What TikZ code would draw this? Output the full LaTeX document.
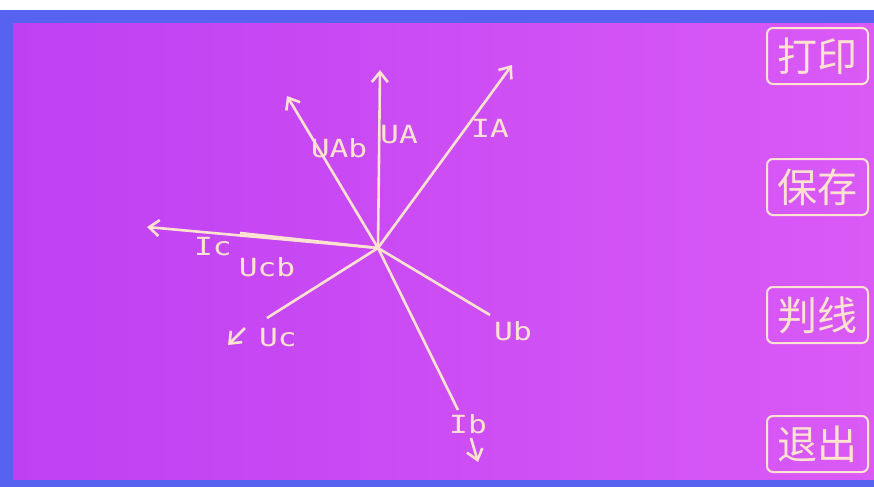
\documentclass[tikz,border=0pt]{standalone}
\usepackage{fontspec}
\newfontfamily\lcdfont[FakeStretch=1.25]{DejaVu Sans Mono}
\newfontfamily\cjkfont{Noto Sans CJK SC}
\usetikzlibrary{arrows.meta}
\definecolor{lcdpinkl}{RGB}{190,64,242}
\definecolor{lcdpinkr}{RGB}{218,90,246}
\definecolor{lcdblue}{RGB}{88,98,240}
\definecolor{lcdline}{RGB}{255,226,208}

\begin{document}
\begin{tikzpicture}[
  x=0.5pt, y=-0.5pt,
  vec/.style={draw=lcdline, line width=1.3pt},
  arr/.style={vec, -{Straight Barb[length=5pt,width=8pt]}},
  lab/.style={text=lcdline, font=\lcdfont\fontsize{12.5}{12.5}\selectfont, inner sep=0pt},
  btn/.style={draw=lcdline, line width=1pt, rounded corners=3pt,
              minimum width=50.5pt, minimum height=28pt, inner sep=0pt,
              text=lcdline, font=\cjkfont\fontsize{20}{20}\selectfont},
]
\useasboundingbox (0,0) rectangle (874,487);
% screen
\fill[white] (0,0) rectangle (874,487);
\fill[lcdblue] (0,10) rectangle (874,487);
\shade[left color=lcdpinkl, right color=lcdpinkr] (13,23) rectangle (874,479);

% phasor tips
\coordinate (o) at (378,248);
\coordinate (ua) at (380,70);
\coordinate (ia) at (512,65);
\coordinate (uab) at (287,96);
\coordinate (ic) at (147,227);
\coordinate (ucb) at (240,233);
\coordinate (uc) at (267,318);
\coordinate (ub) at (490,315);
\coordinate (ib) at (458,410);

\draw[arr] (o) -- (ua);
\draw[arr] (o) -- (ia);
\draw[arr] (o) -- (uab);
\draw[arr] (o) -- (ic);
\draw[vec] (o) -- (ucb);
\draw[vec] (o) -- (uc);
\draw[vec] (o) -- (ub);
\draw[vec] (o) -- (ib);

% labels
\node[lab] (lua) at (399,135) {UA};
\node[lab] (lia) at (490,128) {IA};
\node[lab] (luab) at (339,148) {UAb};
\node[lab] (lic) at (213,247) {Ic};
\node[lab] (lucb) at (267,267) {Ucb};
\node[lab] (luc) at (278,338) {Uc};
\node[lab] (lub) at (513,331) {Ub};
\node[lab] (lib) at (468,424) {Ib};

% loose arrow heads
\coordinate (ucs) at (245,328);
\coordinate (uce) at (228,345);
\coordinate (ibs) at (471,438);
\coordinate (ibe) at (478,462);
\draw[arr] (ucs) -- (uce);
\draw[arr] (ibs) -- (ibe);

% soft keys
\node[btn] (print) at (817.5,56) {打印};
\node[btn] (save) at (817.5,187) {保存};
\node[btn] (check) at (817.5,315) {判线};
\node[btn] (quit) at (817.5,444) {退出};
\end{tikzpicture}
\end{document}
